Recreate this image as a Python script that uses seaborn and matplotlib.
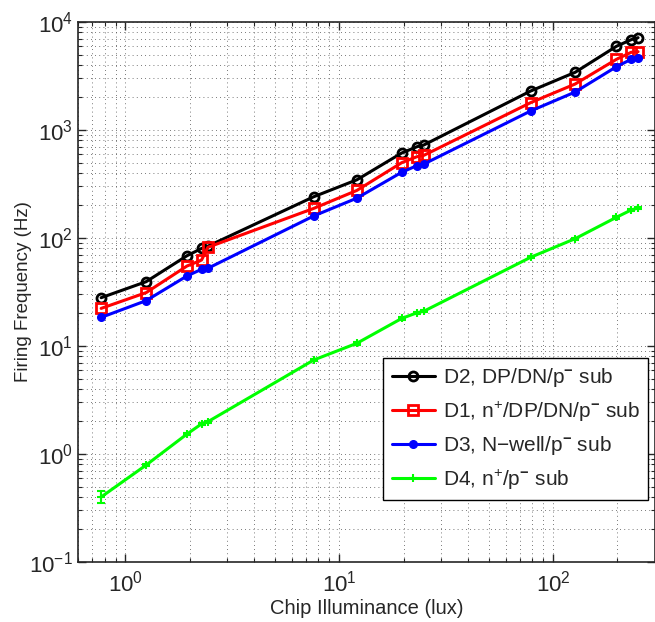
import numpy as np
import pandas as pd
import matplotlib
matplotlib.use("Agg")
import matplotlib.pyplot as plt
import seaborn as sns
from matplotlib.ticker import LogLocator, NullFormatter

# ---- data ----
illuminance = [0.77, 1.25, 1.94, 2.27, 2.43, 7.6, 12.1, 19.6, 23.1, 24.9, 78.6, 127, 198, 232, 250]
d2_freq = [28.0, 39.4, 68.5, 80.0, 84.0, 241, 346, 612, 700, 727, 2296, 3422, 5955, 6859, 7160]
d1_freq = [22.3, 31.2, 55.0, 62.5, 82.0, 188, 276, 498, 566, 583, 1791, 2667, 4511, 5240, 5310]
d3_freq = [18.4, 26.3, 44.5, 51.3, 52.4, 160, 234, 406, 468, 484, 1500, 2248, 3855, 4511, 4608]
d4_freq = [0.40, 0.79, 1.53, 1.90, 1.99, 7.42, 10.6, 18.0, 20.3, 21.0, 66.3, 98.6, 155.5, 181.6, 189.6]
d4_err = [0.05, 0.02, 0.04, 0.05, 0.05, 0.2, 0.3, 0.5, 0.5, 0.5, 1.5, 2.0, 4.0, 4.0, 4.0]

labels = [r"D2, DP/DN/p$^{\mathbf{-}}$ sub",
          r"D1, n$^{+}$/DP/DN/p$^{\mathbf{-}}$ sub",
          r"D3, N$-$well/p$^{\mathbf{-}}$ sub",
          r"D4, n$^{+}$/p$^{\mathbf{-}}$ sub"]
x_label = "Chip Illuminance (lux)"
y_label = "Firing Frequency (Hz)"

sns.set_style("ticks")
plt.rcParams["font.family"] = ["Liberation Sans", "DejaVu Sans"]
plt.rcParams["mathtext.fontset"] = "custom"
plt.rcParams["mathtext.rm"] = "Liberation Sans"
plt.rcParams["mathtext.it"] = "Liberation Sans:italic"
plt.rcParams["mathtext.bf"] = "Liberation Sans:bold"
plt.rcParams["mathtext.sf"] = "Liberation Sans"

fig = plt.figure(figsize=(6.55, 6.22), dpi=100)
ax = fig.add_axes([78/655, 1-562/622, 1.0 - 78/655, (562-22)/622])

styles = [
    dict(color="black", marker="o", markersize=6.5, markerfacecolor="none",
         markeredgecolor="black", markeredgewidth=2.0),
    dict(color="red", marker="s", markersize=6.5, markerfacecolor="none",
         markeredgecolor="red", markeredgewidth=2.0),
    dict(color="blue", marker="o", markersize=5.5, markerfacecolor="blue",
         markeredgecolor="blue", markeredgewidth=1.0),
    dict(color="#00ff00", marker="+", markersize=6, markeredgecolor="#00ff00",
         markeredgewidth=1.5),
]
series = [d2_freq, d1_freq, d3_freq, d4_freq]
for ys, lab, st in zip(series, labels, styles):
    sns.lineplot(x=illuminance, y=ys, ax=ax, label=lab, sort=False,
                 linewidth=2.2, **st)

ax.errorbar(illuminance, d4_freq, yerr=d4_err, fmt="none", ecolor="#00ff00",
            elinewidth=1.5, capsize=3, capthick=1.5)

ax.set_xscale("log")
ax.set_yscale("log")
ax.set_xlim(0.6, 300)
ax.set_ylim(0.1, 1e4)

ax.xaxis.set_major_locator(LogLocator(base=10, numticks=10))
ax.xaxis.set_minor_locator(LogLocator(base=10, subs=np.arange(2, 10), numticks=30))
ax.yaxis.set_major_locator(LogLocator(base=10, numticks=10))
ax.yaxis.set_minor_locator(LogLocator(base=10, subs=np.arange(2, 10), numticks=30))
ax.xaxis.set_minor_formatter(NullFormatter())
ax.yaxis.set_minor_formatter(NullFormatter())

ax.grid(True, which="both", linestyle=(0, (1, 4)), color="0.3", linewidth=0.6)
ax.tick_params(which="both", direction="in", top=True, right=True, labelsize=16)
ax.tick_params(which="major", length=6, width=1.0)
ax.tick_params(which="minor", length=3, width=0.8)
ax.tick_params(axis="x", which="major", pad=6)
for s in ax.spines.values():
    s.set_linewidth(1.2)

ax.set_xlabel(x_label, fontsize=14.5, labelpad=2)
ax.set_ylabel(y_label, fontsize=13.5, labelpad=-2)

leg = ax.legend(loc="lower right", bbox_to_anchor=(0.988, 0.115), fontsize=15,
                frameon=True, fancybox=False, edgecolor="black", framealpha=1,
                handlelength=2.1, handletextpad=0.35, borderpad=0.4, labelspacing=0.5,
                borderaxespad=0)
leg.get_frame().set_linewidth(1.0)

fig.savefig("out.png", dpi=100)
